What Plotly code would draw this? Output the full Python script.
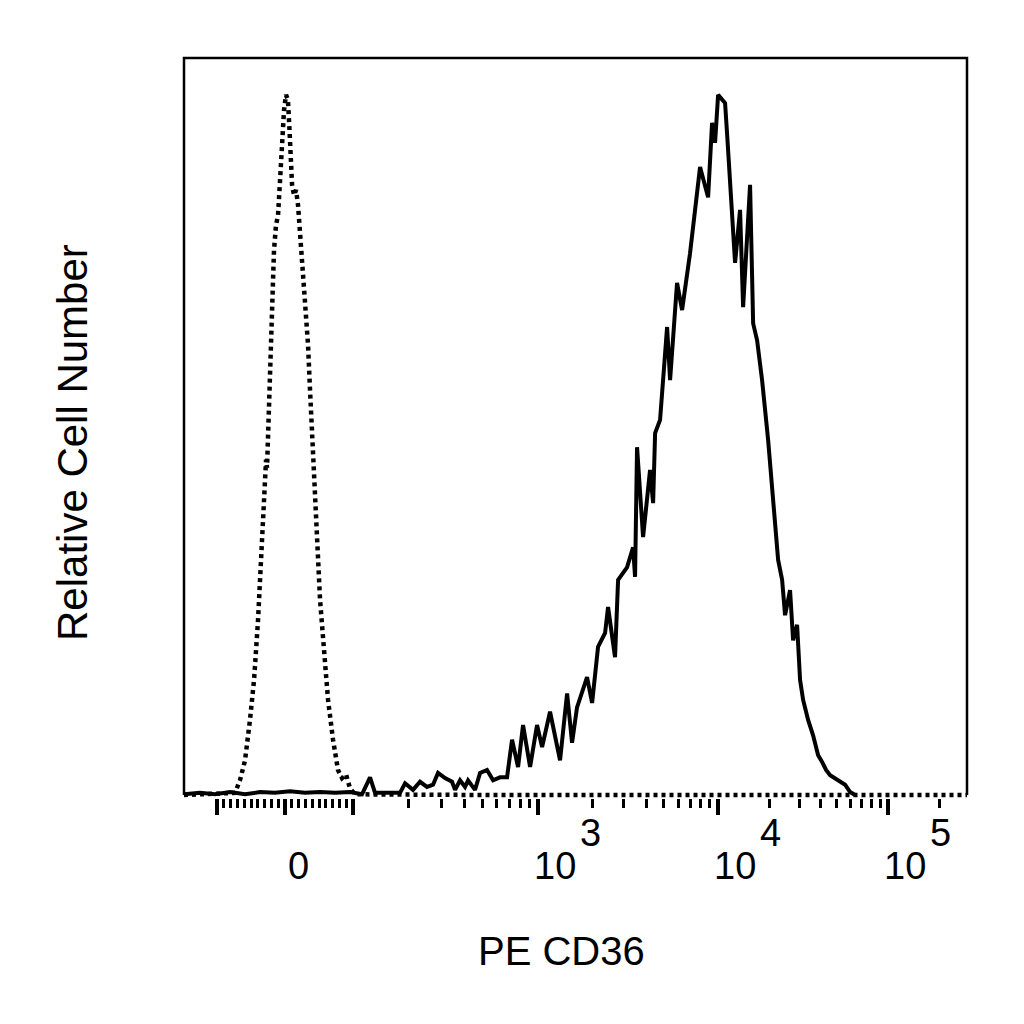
import math
import plotly.graph_objects as go

# histogram data, x in display channels (0-1024), y = relative cell number (% of max)
stained_ch = [0.0, 20.9, 40.5, 60.2, 79.8, 99.4, 119.0, 138.6, 158.3, 177.9, 197.5, 217.1, 232.8,
              243.3, 249.8, 269.4, 282.5, 289.1, 299.5, 308.7, 317.8, 325.7, 332.2, 341.4, 350.5,
              354.5, 361.0, 367.5, 371.5, 380.6, 387.2, 396.3, 404.2, 413.3, 422.5, 429.0, 436.9,
              443.4, 452.6, 461.7, 468.3, 478.7, 491.8, 501.0, 507.5, 514.0, 527.1, 533.7, 541.5,
              550.7, 554.6, 563.7, 567.7, 579.4, 587.3, 589.9, 592.5, 600.4, 609.5, 613.5, 616.1,
              622.6, 631.8, 635.7, 644.8, 651.4, 661.8, 674.9, 685.4, 690.6, 694.5, 698.5, 703.7,
              707.6, 710.2, 714.2, 720.7, 727.2, 731.2, 740.3, 744.3, 749.5, 756.0, 763.9, 769.1,
              773.0, 777.0, 782.2, 786.1, 792.6, 796.6, 801.8, 805.7, 809.7, 816.2, 822.7, 829.3,
              834.5, 839.7, 845.0, 851.5, 858.0, 864.6, 871.1, 877.7]
stained_count = [0.1, 0.3, 0.1, 0.4, 0.1, 0.4, 0.3, 0.5, 0.3, 0.4, 0.3, 0.4, 0.1,
                 2.4, 0.3, 0.3, 0.3, 1.6, 0.7, 1.8, 1.1, 1.4, 3.0, 2.3, 1.8,
                 0.7, 2.0, 1.1, 2.0, 0.7, 3.0, 3.4, 2.0, 2.4, 2.4, 7.5, 3.8,
                 9.5, 3.8, 9.5, 6.5, 11.3, 4.7, 13.8, 7.1, 11.9, 16.0, 12.5, 20.1,
                 22.0, 25.5, 18.7, 29.2, 30.9, 33.6, 29.6, 47.2, 35.0, 44.1, 39.6, 49.1,
                 50.9, 63.5, 56.3, 69.5, 65.8, 73.5, 85.2, 81.1, 91.2, 88.5, 95.0, 94.3,
                 93.9, 89.8, 83.4, 72.2, 79.4, 66.2, 82.8, 64.0, 61.7, 56.3, 48.2, 41.4,
                 36.0, 31.9, 29.2, 24.4, 27.8, 21.0, 23.1, 15.6, 12.9, 10.2, 8.1, 5.4,
                 4.5, 3.4, 2.7, 2.3, 1.8, 1.4, 0.4, 0.0]

isotype_ch = [0.0, 66.7, 73.2, 79.8, 86.3, 91.6, 96.8, 102.0, 105.9, 107.3, 108.6, 109.9, 112.5,
              115.1, 117.7, 120.3, 123.0, 125.6, 128.2, 130.8, 133.4, 136.0, 138.6, 141.3, 143.9,
              146.5, 149.1, 151.7, 155.7, 159.6, 162.2, 164.8, 168.7, 172.7, 177.9, 183.1, 188.4,
              194.9, 201.4, 206.7, 211.9, 217.1, 223.7, 400.0, 600.0, 800.0, 1024.0]
isotype_count = [0.0, 0.3, 2.0, 4.7, 10.2, 15.6, 23.7, 34.6, 44.1, 45.5, 44.4, 48.2, 56.3,
                 67.2, 73.9, 77.3, 78.7, 83.4, 88.9, 92.9, 95.0, 94.3, 88.9, 82.8, 81.4,
                 82.1, 80.1, 76.7, 69.9, 64.5, 61.1, 55.0, 45.5, 36.0, 26.5, 19.7, 12.9,
                 7.5, 3.4, 2.3, 2.8, 0.9, 0.1, 0.0, 0.0, 0.0, 0.0]

# biexponential axis: channel of each decade start, linear part around zero
decade_ch = {2: 221.0, 3: 463.0, 4: 698.5, 5: 920.8}
zero_ch = 132.1
lin_slope = 0.889


def to_channel(v):
    if abs(v) <= 100:
        return zero_ch + lin_slope * v
    e = int(math.floor(math.log10(v)))
    frac = math.log10(v) - e
    a = decade_ch[e]
    b = decade_ch.get(e + 1, a + 222.0)
    return a + frac * (b - a)


major_vals = [-100, 0, 100, 1000, 10000, 100000]
minor_vals = ([-v for v in range(10, 100, 10)] + list(range(10, 100, 10))
              + list(range(200, 1000, 100)) + list(range(2000, 10000, 1000))
              + list(range(20000, 100000, 10000)) + [200000])
label_vals = [0, 1000, 10000, 100000]
label_base = ['0', '10', '10', '10']
label_exp = ['', '3', '4', '5']

fig = go.Figure()

fig.add_trace(go.Scatter(
    x=isotype_ch, y=isotype_count,
    mode='lines',
    line=dict(color='black', width=4.5, dash='4px,4px'),
    hoverinfo='skip',
))
fig.add_trace(go.Scatter(
    x=stained_ch, y=stained_count,
    mode='lines',
    line=dict(color='black', width=4),
    hoverinfo='skip',
))

font = 'Liberation Sans, Arial, sans-serif'

# page has an 8px body margin, so margins are 8px smaller on the left/top
fig.update_layout(
    width=1024,
    height=1024,
    margin=dict(l=176, r=65, t=50, b=234),
    paper_bgcolor='white',
    plot_bgcolor='white',
    showlegend=False,
    xaxis=dict(
        range=[0, 1024],
        showgrid=False, zeroline=False, showline=False,
        tickmode='array', tickvals=[to_channel(v) for v in major_vals],
        ticks='outside', ticklen=16, tickwidth=4, tickcolor='black',
        showticklabels=False,
        minor=dict(tickmode='array', tickvals=[to_channel(v) for v in minor_vals],
                   ticks='outside', ticklen=9, tickwidth=2.5, tickcolor='black', showgrid=False),
    ),
    yaxis=dict(
        range=[-0.4, 100],
        showgrid=False, zeroline=False, showline=False,
        showticklabels=False, ticks='',
    ),
    # frame on left, top and right only
    shapes=[dict(type='path', xref='paper', yref='paper',
                 path='M 0,0.004 L 0,1 L 1,1 L 1,0.004',
                 line=dict(color='black', width=2.5))],
)

# tick labels, exponent written at full size like the original
for v, base, exp in zip(label_vals, label_base, label_exp):
    shift = 13 if exp == '' else 17
    fig.add_annotation(x=to_channel(v), y=0, xref='x', yref='paper',
                       text=base, showarrow=False, xshift=shift, yshift=-68,
                       xanchor='center', yanchor='middle',
                       font=dict(family=font, size=38, color='black'))
    if exp:
        fig.add_annotation(x=to_channel(v), y=0, xref='x', yref='paper',
                           text=exp, showarrow=False, xshift=52, yshift=-35,
                           xanchor='center', yanchor='middle',
                           font=dict(family=font, size=38, color='black'))

fig.add_annotation(x=(561 - 184) / 783, y=0, xref='paper', yref='paper',
                   text='PE CD36', showarrow=False, yshift=-153,
                   xanchor='center', yanchor='middle',
                   font=dict(family=font, size=40, color='black'))
fig.add_annotation(x=0, y=(798 - 443) / 740, xref='paper', yref='paper',
                   text='Relative Cell Number', textangle=-90, showarrow=False, xshift=-112,
                   xanchor='center', yanchor='middle',
                   font=dict(family=font, size=42, color='black'))

fig.write_html("out.html")
